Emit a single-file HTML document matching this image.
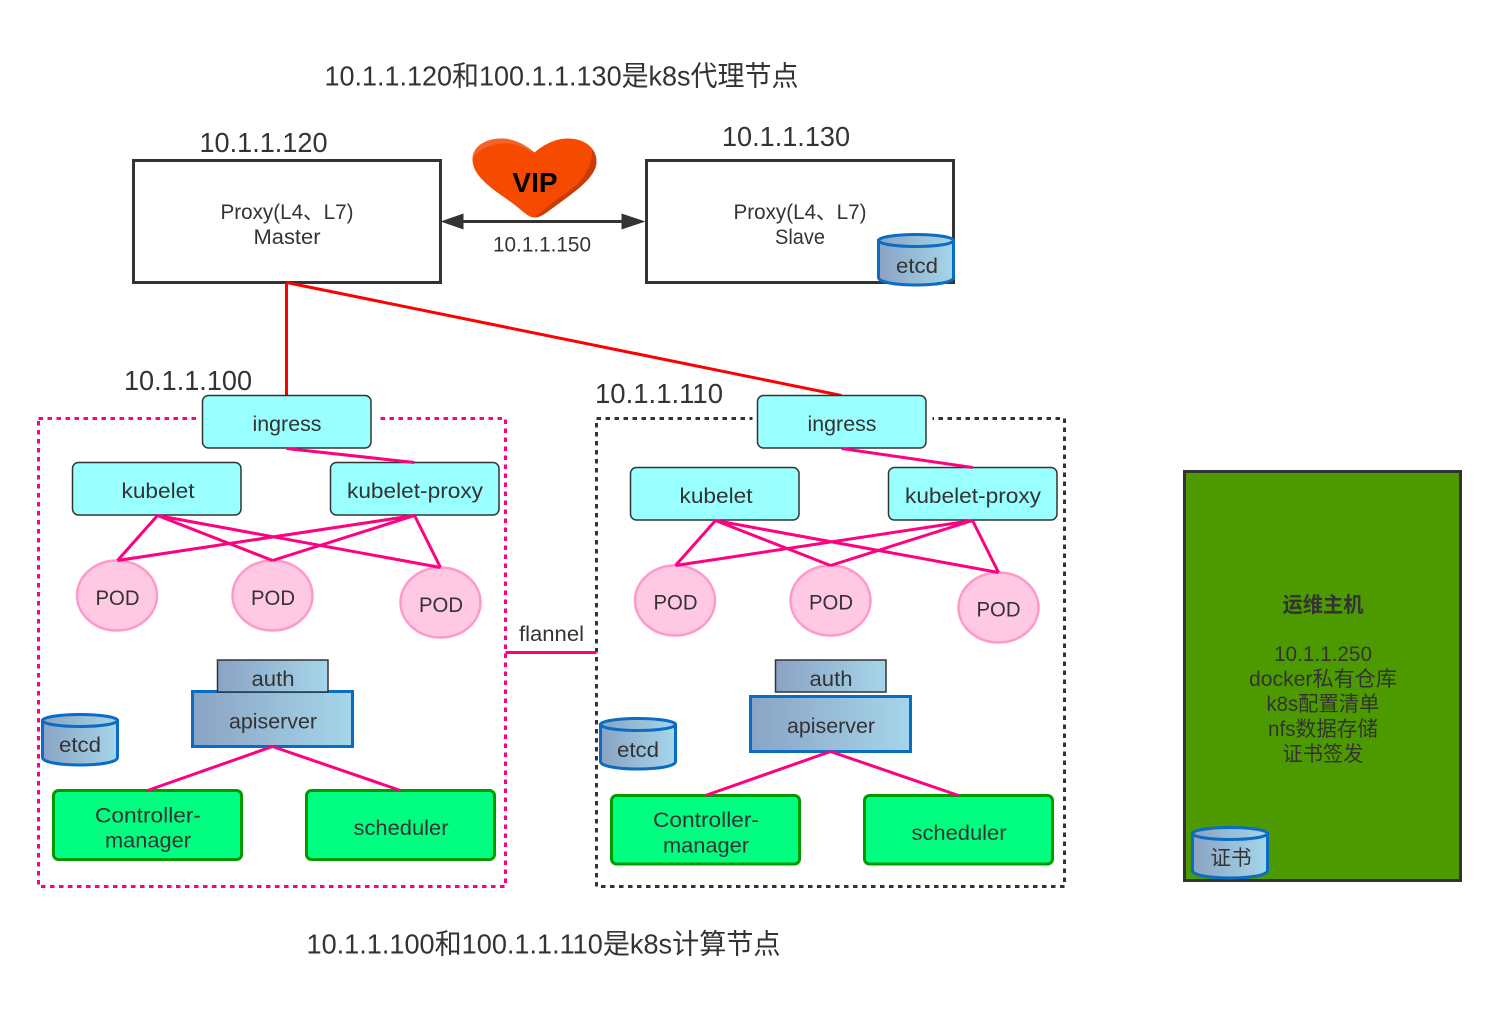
<!DOCTYPE html>
<html><head><meta charset="utf-8"><style>
html,body{margin:0;padding:0;background:#fff}
svg{display:block}
text{font-family:"Liberation Sans","Noto Sans CJK SC",sans-serif;fill:#333;text-anchor:middle}
.t{font-size:21px}
.h{font-size:28px}
svg rect,svg ellipse,svg path,svg line{transform:translate(-.5px,-.5px)}
</style></head><body>
<svg width="1500" height="1013" viewBox="0 0 1500 1013" xmlns="http://www.w3.org/2000/svg">
<defs>
<linearGradient id="b" x1="0" y1="0" x2="1" y2="0"><stop offset="0" stop-color="#8aa3c4"/><stop offset="1" stop-color="#a5d6ea"/></linearGradient>
</defs>
<rect width="1501" height="1014" fill="#fff"/>

<text class="h" x="561.500" y="85.500" textLength="474" lengthAdjust="spacingAndGlyphs">10.1.1.120和100.1.1.130是k8s代理节点</text>
<text class="h" x="263.500" y="152" textLength="128" lengthAdjust="spacingAndGlyphs">10.1.1.120</text>
<text class="h" x="786" y="146" textLength="128" lengthAdjust="spacingAndGlyphs">10.1.1.130</text>
<text class="h" x="543.500" y="953.500" textLength="474" lengthAdjust="spacingAndGlyphs">10.1.1.100和100.1.1.110是k8s计算节点</text>
<text class="h" x="188" y="390" textLength="128" lengthAdjust="spacingAndGlyphs">10.1.1.100</text>
<text class="h" x="659" y="403" textLength="128" lengthAdjust="spacingAndGlyphs">10.1.1.110</text>

<!-- proxies -->
<rect x="134" y="161" width="307" height="122" fill="#fff" stroke="#333" stroke-width="3"/>
<text class="t" x="287" y="219" textLength="133" lengthAdjust="spacingAndGlyphs">Proxy(L4、L7)</text>
<text class="t" x="287" y="244" textLength="67" lengthAdjust="spacingAndGlyphs">Master</text>
<rect x="647" y="161" width="307" height="122" fill="#fff" stroke="#333" stroke-width="3"/>
<text class="t" x="800" y="219" textLength="133" lengthAdjust="spacingAndGlyphs">Proxy(L4、L7)</text>
<text class="t" x="800" y="244" textLength="50" lengthAdjust="spacingAndGlyphs">Slave</text>

<!-- top etcd -->
<path d="M879 241V278C879 288 954 288 954 278V241Z" fill="url(#b)" stroke="#0b6cc4" stroke-width="3"/>
<ellipse cx="916.500" cy="241" rx="37.500" ry="6" fill="url(#b)" stroke="#0b6cc4" stroke-width="3"/>
<text class="t" x="917" y="273" textLength="42" lengthAdjust="spacingAndGlyphs">etcd</text>

<!-- heart -->
<path d="M535 218C528 218 522 210 512 203C497 192 473 178 473 160C473 147 486 139 502 139C516 139 528 147 535 153C542 147 554 139 568 139C585 139 597 148 597 162C597 178 574 193 558 205C548 212 542 218 535 218Z" fill="#f54a00"/>
<path d="M473 160C473 147 486 139 502 139C516 139 528 147 535 153L530 152C522 146 512 143 502 144C490 145 478 150 473 160Z" fill="#f4632a"/>
<path d="M597 162C597 178 574 193 558 205C548 212 542 218 535 218C542 213 548 206 560 198C575 188 592 176 593 150C595 153 597 157 597 162Z" fill="#c93c05"/>
<text x="535" y="192" style="font-size:28px;font-weight:bold;fill:#000">VIP</text>

<!-- vip arrow -->
<line x1="460" y1="222" x2="625" y2="222" stroke="#333" stroke-width="3"/>
<path d="M441 222L464 214V230Z" fill="#333"/>
<path d="M646 222L622 214V230Z" fill="#333"/>
<text class="t" x="542" y="251.500" textLength="98" lengthAdjust="spacingAndGlyphs">10.1.1.150</text>

<!-- red -->
<path d="M287 283V396M287 283L842 396" fill="none" stroke="#ff0000" stroke-width="3"/>

<!-- clusters -->
<rect x="39" y="419" width="467" height="468" fill="none" stroke="#ff0080" stroke-width="3" stroke-dasharray="4.500 4.500"/>
<rect x="597" y="419" width="468" height="468" fill="none" stroke="#333" stroke-width="3" stroke-dasharray="4.500 4.500"/>
<rect x="198" y="410" width="180" height="20" fill="#fff"/>
<rect x="753" y="410" width="180" height="20" fill="#fff"/>

<!-- flannel -->
<line x1="506" y1="653" x2="597" y2="653" stroke="#ff0080" stroke-width="3"/>
<text class="t" x="551.500" y="641" textLength="65" lengthAdjust="spacingAndGlyphs">flannel</text>

<!-- ingresses -->
<rect x="203" y="396" width="168.500" height="52.500" rx="6" fill="#99ffff" stroke="#333" stroke-width="1.500"/>
<text class="t" x="287" y="431" textLength="69" lengthAdjust="spacingAndGlyphs">ingress</text>
<rect x="758" y="396" width="168.500" height="52.500" rx="6" fill="#99ffff" stroke="#333" stroke-width="1.500"/>
<text class="t" x="842" y="431" textLength="69" lengthAdjust="spacingAndGlyphs">ingress</text>

<!-- left cluster -->
<g>
<rect x="73" y="463" width="168.500" height="52.500" rx="6" fill="#99ffff" stroke="#333" stroke-width="1.500"/>
<text class="t" x="158" y="498" textLength="73" lengthAdjust="spacingAndGlyphs">kubelet</text>
<rect x="331" y="463" width="168.500" height="52.500" rx="6" fill="#99ffff" stroke="#333" stroke-width="1.500"/>
<text class="t" x="415" y="498" textLength="136" lengthAdjust="spacingAndGlyphs">kubelet-proxy</text>
<ellipse cx="117.500" cy="596" rx="40" ry="35" fill="#ffc9e3" stroke="#ff99cc" stroke-width="2.500"/>
<ellipse cx="273" cy="596" rx="40" ry="35" fill="#ffc9e3" stroke="#ff99cc" stroke-width="2.500"/>
<ellipse cx="441" cy="603" rx="40" ry="35" fill="#ffc9e3" stroke="#ff99cc" stroke-width="2.500"/>
<text class="t" x="117.500" y="605" textLength="44" lengthAdjust="spacingAndGlyphs">POD</text>
<text class="t" x="273" y="605" textLength="44" lengthAdjust="spacingAndGlyphs">POD</text>
<text class="t" x="441" y="612" textLength="44" lengthAdjust="spacingAndGlyphs">POD</text>
<path d="M287 449L415 463M158 516L118 561M158 516L273 561M158 516L441 568M415 516L118 561M415 516L273 561M415 516L441 568" fill="none" stroke="#ff0080" stroke-width="3"/>
<rect x="193" y="692" width="160" height="55" fill="url(#b)" stroke="#0b6cc4" stroke-width="3"/>
<rect x="218" y="660.500" width="110.500" height="32" fill="url(#b)" stroke="#333" stroke-width="1.500"/>
<text class="t" x="273" y="686" textLength="43" lengthAdjust="spacingAndGlyphs">auth</text>
<text class="t" x="273" y="728.500" textLength="88" lengthAdjust="spacingAndGlyphs">apiserver</text>
<path d="M43 721V758C43 768 118 768 118 758V721Z" fill="url(#b)" stroke="#0b6cc4" stroke-width="3"/>
<ellipse cx="80.500" cy="721" rx="37.500" ry="6" fill="url(#b)" stroke="#0b6cc4" stroke-width="3"/>
<text class="t" x="80" y="752" textLength="42" lengthAdjust="spacingAndGlyphs">etcd</text>
<rect x="54" y="791" width="188" height="69" rx="5" fill="#00ff80" stroke="#009900" stroke-width="3"/>
<text class="t" x="148" y="822.500" textLength="106" lengthAdjust="spacingAndGlyphs">Controller-</text>
<text class="t" x="148" y="847.500" textLength="86" lengthAdjust="spacingAndGlyphs">manager</text>
<rect x="307" y="791" width="188" height="69" rx="5" fill="#00ff80" stroke="#009900" stroke-width="3"/>
<text class="t" x="401" y="835" textLength="95" lengthAdjust="spacingAndGlyphs">scheduler</text>
<path d="M273 747L148 791M273 747L401 791" fill="none" stroke="#ff0080" stroke-width="3"/>
</g>

<!-- right cluster -->
<g>
<rect x="631" y="468" width="168.500" height="52.500" rx="6" fill="#99ffff" stroke="#333" stroke-width="1.500"/>
<text class="t" x="716" y="503" textLength="73" lengthAdjust="spacingAndGlyphs">kubelet</text>
<rect x="889" y="468" width="168.500" height="52.500" rx="6" fill="#99ffff" stroke="#333" stroke-width="1.500"/>
<text class="t" x="973" y="503" textLength="136" lengthAdjust="spacingAndGlyphs">kubelet-proxy</text>
<ellipse cx="675.500" cy="601" rx="40" ry="35" fill="#ffc9e3" stroke="#ff99cc" stroke-width="2.500"/>
<ellipse cx="831" cy="601" rx="40" ry="35" fill="#ffc9e3" stroke="#ff99cc" stroke-width="2.500"/>
<ellipse cx="999" cy="608" rx="40" ry="35" fill="#ffc9e3" stroke="#ff99cc" stroke-width="2.500"/>
<text class="t" x="675.500" y="609.500" textLength="44" lengthAdjust="spacingAndGlyphs">POD</text>
<text class="t" x="831" y="609.500" textLength="44" lengthAdjust="spacingAndGlyphs">POD</text>
<text class="t" x="998.500" y="616.500" textLength="44" lengthAdjust="spacingAndGlyphs">POD</text>
<path d="M842 449L973 468M716 521L676 566M716 521L831 566M716 521L999 573M973 521L676 566M973 521L831 566M973 521L999 573" fill="none" stroke="#ff0080" stroke-width="3"/>
<rect x="751" y="697" width="160" height="55" fill="url(#b)" stroke="#0b6cc4" stroke-width="3"/>
<rect x="776" y="660.500" width="110.500" height="32" fill="url(#b)" stroke="#333" stroke-width="1.500"/>
<text class="t" x="831" y="686" textLength="43" lengthAdjust="spacingAndGlyphs">auth</text>
<text class="t" x="831" y="733" textLength="88" lengthAdjust="spacingAndGlyphs">apiserver</text>
<path d="M601 725V762C601 772 676 772 676 762V725Z" fill="url(#b)" stroke="#0b6cc4" stroke-width="3"/>
<ellipse cx="638.500" cy="725" rx="37.500" ry="6" fill="url(#b)" stroke="#0b6cc4" stroke-width="3"/>
<text class="t" x="638" y="757" textLength="42" lengthAdjust="spacingAndGlyphs">etcd</text>
<rect x="612" y="796" width="188" height="68.500" rx="5" fill="#00ff80" stroke="#009900" stroke-width="3"/>
<text class="t" x="706" y="827" textLength="106" lengthAdjust="spacingAndGlyphs">Controller-</text>
<text class="t" x="706" y="852.500" textLength="86" lengthAdjust="spacingAndGlyphs">manager</text>
<rect x="865" y="796" width="188" height="68.500" rx="5" fill="#00ff80" stroke="#009900" stroke-width="3"/>
<text class="t" x="959" y="840" textLength="95" lengthAdjust="spacingAndGlyphs">scheduler</text>
<path d="M831 752L706 796M831 752L959 796" fill="none" stroke="#ff0080" stroke-width="3"/>
</g>

<!-- ops host -->
<rect x="1185" y="472" width="276" height="409" fill="#4d9900" stroke="#333" stroke-width="3"/>
<text class="t" x="1323" y="612" style="font-weight:bold" textLength="81" lengthAdjust="spacingAndGlyphs">运维主机</text>
<text class="t" x="1323" y="661" textLength="98" lengthAdjust="spacingAndGlyphs">10.1.1.250</text>
<text class="t" x="1323" y="686" textLength="148" lengthAdjust="spacingAndGlyphs">docker私有仓库</text>
<text class="t" x="1323" y="711" textLength="113" lengthAdjust="spacingAndGlyphs">k8s配置清单</text>
<text class="t" x="1323" y="736" textLength="110" lengthAdjust="spacingAndGlyphs">nfs数据存储</text>
<text class="t" x="1323" y="761" textLength="81" lengthAdjust="spacingAndGlyphs">证书签发</text>
<path d="M1193 834V871C1193 881 1268 881 1268 871V834Z" fill="url(#b)" stroke="#0b6cc4" stroke-width="3"/>
<ellipse cx="1230.500" cy="834" rx="37.500" ry="6" fill="url(#b)" stroke="#0b6cc4" stroke-width="3"/>
<text class="t" x="1231" y="865" textLength="41" lengthAdjust="spacingAndGlyphs">证书</text>
</svg>
</body></html>
